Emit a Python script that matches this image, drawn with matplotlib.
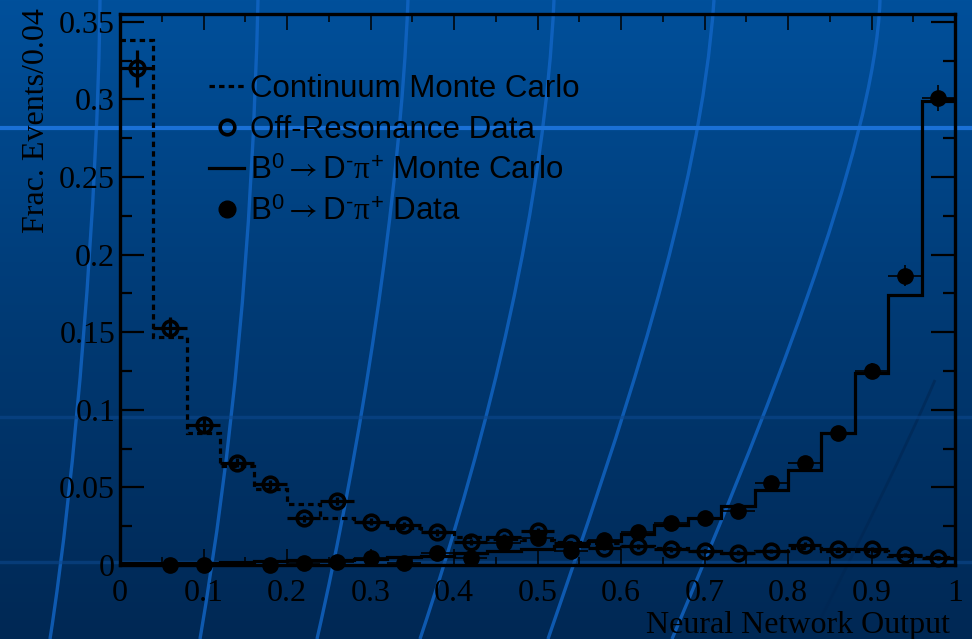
import numpy as np
import matplotlib
matplotlib.use("Agg")
import matplotlib.pyplot as plt
from matplotlib.lines import Line2D
from matplotlib.path import Path
from matplotlib.patches import PathPatch

plt.rcParams['font.family'] = ['Liberation Serif', 'DejaVu Serif']
plt.rcParams['mathtext.fontset'] = 'custom'
plt.rcParams['mathtext.rm'] = 'Liberation Sans'
plt.rcParams['mathtext.it'] = 'Liberation Serif'
plt.rcParams['mathtext.sf'] = 'STIXGeneral'
plt.rcParams['mathtext.bf'] = 'Liberation Sans:bold'

# neural network output, 25 bins of width 0.04
edges = np.linspace(0, 1, 26)
centers = 0.5 * (edges[:-1] + edges[1:])

continuum_mc = [0.338, 0.147, 0.085, 0.064, 0.049, 0.039, 0.030, 0.028, 0.024,
                0.021, 0.018, 0.017, 0.016, 0.015, 0.014, 0.012, 0.011, 0.009,
                0.008, 0.009, 0.011, 0.009, 0.009, 0.006, 0.005]

offres_data = [0.320, 0.153, 0.090, 0.066, 0.052, 0.030, 0.041, 0.028, 0.026,
               0.021, 0.015, 0.018, 0.022, 0.014, 0.011, 0.012, 0.010, 0.009,
               0.008, 0.009, 0.013, 0.010, 0.010, 0.0065, 0.0045]
offres_err = [0.012, 0.007, 0.004, 0.003, 0.003, 0.0025, 0.0025, 0.002, 0.002,
              0.002, 0.002, 0.002, 0.002, 0.0015, 0.0015, 0.0015, 0.0015, 0.0015,
              0.0015, 0.0015, 0.0015, 0.0015, 0.0015, 0.0015, 0.0015]

bdpi_mc = [0.001, 0.001, 0.0015, 0.002, 0.0025, 0.003, 0.0035, 0.004, 0.005,
           0.006, 0.0075, 0.009, 0.010, 0.012, 0.0155, 0.020, 0.026, 0.030,
           0.038, 0.048, 0.061, 0.085, 0.124, 0.174, 0.299]

bdpi_data = [np.nan, 0.0, 0.0, np.nan, 0.0, 0.001, 0.002, 0.0045, 0.001,
             0.0078, 0.0045, 0.014, 0.0175, 0.009, 0.016, 0.021, 0.027, 0.030,
             0.035, 0.053, 0.066, 0.085, 0.125, 0.1865, 0.301]
bdpi_err = [0.0, 0.001, 0.001, 0.0, 0.001, 0.001, 0.001, 0.0015, 0.001,
            0.0015, 0.0015, 0.002, 0.002, 0.002, 0.002, 0.002, 0.002, 0.002,
            0.002, 0.003, 0.003, 0.003, 0.005, 0.007, 0.0085]

labels = ['Continuum Monte Carlo',
          'Off-Resonance Data',
          r'B$^{0}\mathsf{\rightarrow}$D$^{‐}\pi^{+}$ Monte Carlo',
          r'B$^{0}\mathsf{\rightarrow}$D$^{‐}\pi^{+}$ Data']

W, H = 972, 639
fig = plt.figure(figsize=(W / 100, H / 100), dpi=100)

# slide background: vertical blue gradient with light swooshes
bg = fig.add_axes([0, 0, 1, 1], zorder=-10)
bg.set_xlim(0, W)
bg.set_ylim(H, 0)
bg.axis('off')
top = np.array([0, 80, 155]) / 255
mid = np.array([0, 58, 116]) / 255
bot = np.array([0, 40, 84]) / 255
t = np.linspace(0, 1, 256)[:, None]
grad = np.where(t < 0.5, top + (mid - top) * (t / 0.5), mid + (bot - mid) * ((t - 0.5) / 0.5))
bg.imshow(grad[:, None, :].repeat(2, axis=1), extent=[0, W, H, 0], aspect='auto')

swooshes = [
    [(100, 0), (98, 200), (75, 480), (50, 639)],
    [(258, 0), (252, 250), (232, 450), (200, 639)],
    [(408, 0), (400, 200), (360, 450), (317, 639)],
    [(554, 0), (545, 200), (490, 430), (420, 639)],
    [(714, 0), (700, 200), (620, 430), (548, 639)],
    [(880, 0), (875, 150), (760, 430), (672, 639)],
]
for pts in swooshes:
    p = Path(pts, [Path.MOVETO, Path.CURVE4, Path.CURVE4, Path.CURVE4])
    bg.add_patch(PathPatch(p, fc='none', ec=(0.07, 0.40, 0.78), lw=2.4, alpha=0.8))
p = Path([(935, 380), (905, 450), (860, 540), (820, 620)],
         [Path.MOVETO, Path.CURVE4, Path.CURVE4, Path.CURVE4])
bg.add_patch(PathPatch(p, fc='none', ec=(0.0, 0.15, 0.32), lw=2, alpha=0.6))
bg.axhline(128, color=(0.10, 0.44, 0.84), lw=3)
bg.axhline(417, color=(0.05, 0.28, 0.55), lw=2.5, alpha=0.6)
bg.axhline(562, color=(0.05, 0.28, 0.55), lw=2.5, alpha=0.6)

ax = fig.add_axes([120 / W, (H - 565) / H, 835 / W, 551 / H])
ax.set_facecolor('none')

lw = 2.3
ax.stairs(continuum_mc, edges, color='k', lw=lw, ls=(0, (1.7, 1.3)), baseline=None)
ax.stairs(bdpi_mc, edges, color='k', lw=lw, baseline=None)

ax.errorbar(centers, offres_data, yerr=offres_err, xerr=0.02, fmt='o', ms=10.5,
            mfc='none', mec='k', mew=2.6, ecolor='k', elinewidth=2.3, capsize=0,
            zorder=4, clip_on=False)
ax.errorbar(centers, bdpi_data, yerr=bdpi_err, xerr=0.02, fmt='o', ms=11,
            color='k', ecolor='k', elinewidth=1.2, capsize=0, zorder=5, clip_on=False)

ax.set_xlim(0, 1)
ax.set_ylim(0, 0.355)
ax.set_xticks(np.arange(0, 1.01, 0.1))
ax.set_xticklabels(['0', '0.1', '0.2', '0.3', '0.4', '0.5', '0.6', '0.7', '0.8', '0.9', '1'])
ax.set_xticks(np.arange(0.05, 1, 0.1), minor=True)
ax.set_yticks(np.arange(0, 0.351, 0.05))
ax.set_yticklabels(['0', '0.05', '0.1', '0.15', '0.2', '0.25', '0.3', '0.35'])
ax.set_yticks(np.arange(0.025, 0.35, 0.05), minor=True)

ax.tick_params(axis='both', which='both', direction='in', top=True, right=True,
               labelsize=23, colors='k')
ax.tick_params(axis='x', which='major', length=11.5, width=1.1, pad=10)
ax.tick_params(axis='x', which='minor', length=5.8, width=1.1)
ax.tick_params(axis='y', which='major', length=17, width=1.6, pad=3.5)
ax.tick_params(axis='y', which='minor', length=8.6, width=1.6)
for s in ax.spines.values():
    s.set_linewidth(2.4)
    s.set_color('k')

fig.text(37 / W, 1 - 8 / H, 'Frac. Events/0.04', rotation=90, ha='center', va='top',
         fontsize=23)
fig.text(950 / W, 1 - 633 / H, 'Neural Network Output', ha='right', va='baseline',
         fontsize=23)

handles = [
    Line2D([], [], color='k', lw=lw, ls=(0, (1.7, 1.3))),
    Line2D([], [], ls='none', marker='o', ms=10.5, mfc='none', mec='k', mew=2.6),
    Line2D([], [], color='k', lw=lw),
    Line2D([], [], ls='none', marker='o', ms=12, color='k'),
]
ax.legend(handles, labels, loc='upper left', bbox_to_anchor=(0.107, 0.892),
          frameon=False, prop={'family': 'Liberation Sans', 'size': 22.5},
          handlelength=1.1, handletextpad=0.2, labelspacing=0.36, borderpad=0,
          borderaxespad=0)

fig.savefig('out.png', dpi=100)
